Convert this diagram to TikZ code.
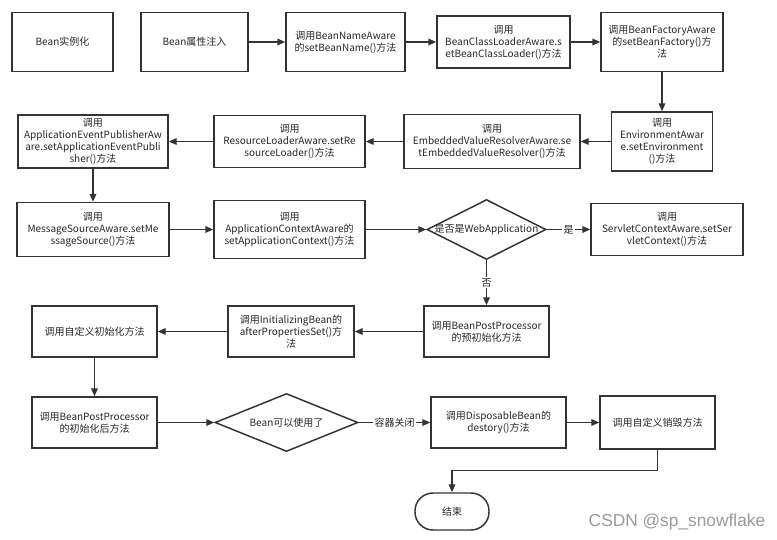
\documentclass[tikz,border=0pt]{standalone}
\usepackage{fontspec}
\setmainfont{Noto Sans CJK SC}
\newfontfamily\markfont{Liberation Sans}
\usetikzlibrary{arrows.meta,shapes.geometric}
\tikzset{every picture/.style={line width=0.75pt}}
\tikzset{
  flowbox/.style 2 args={draw=black!80, line width=1.1pt, align=center, inner sep=0pt,
    minimum width=#1*0.75pt, minimum height=#2*0.75pt,
    font=\fontsize{7.5}{9}\selectfont, text=black!85},
  decision/.style 2 args={draw=black!80, line width=1.1pt, diamond, inner sep=0pt,
    minimum width=#1*0.75pt, minimum height=#2*0.75pt},
  dtext/.style={font=\fontsize{7.5}{9}\selectfont, text=black!85},
  terminal/.style={draw=black!80, line width=1.1pt, rounded corners=13.5pt, inner sep=0pt,
    minimum width=74*0.75pt, minimum height=37*0.75pt,
    font=\fontsize{7.5}{9}\selectfont, text=black!85},
  flow/.style={draw=black!80, line width=1.1pt, -{Triangle[length=6pt,width=5pt]}},
  elabel/.style={fill=white, inner sep=1pt, font=\fontsize{7.5}{9}\selectfont, text=black!85}
}

\begin{document}
\begin{tikzpicture}[x=0.75pt,y=0.75pt,yscale=-1,xscale=1]
\useasboundingbox (0,0) rectangle (777,539);

%Shape: Rectangle
\node [flowbox={101}{59}] (inst) at (62.5,42) {Bean实例化};
%Shape: Rectangle
\node [flowbox={107}{59}] (inject) at (194.5,42) {Bean属性注入};
%Shape: Rectangle
\node [flowbox={119}{59}] (nameaw) at (345.5,42) {调用BeanNameAware\\的setBeanName()方法};
%Shape: Rectangle
\node [flowbox={133}{52}] (classld) at (503.5,42) {调用\\BeanClassLoaderAware.s\\etBeanClassLoader()方法};
%Shape: Rectangle
\node [flowbox={122}{59}] (factaw) at (662,42) {调用BeanFactoryAware\\的setBeanFactory()方\\法};
%Shape: Rectangle
\node [flowbox={101}{59}] (envaw) at (662,141.5) {调用\\EnvironmentAwar\\e.setEnvironment\\()方法};
%Shape: Rectangle
\node [flowbox={176}{54}] (embval) at (492,141.5) {调用\\EmbeddedValueResolverAware.se\\tEmbeddedValueResolver()方法};
%Shape: Rectangle
\node [flowbox={151}{52}] (resld) at (289.5,141.5) {调用\\ResourceLoaderAware.setRe\\sourceLoader()方法};
%Shape: Rectangle
\node [flowbox={150}{53}] (evpub) at (93,141.5) {调用\\ApplicationEventPublisherAw\\are.setApplicationEventPubli\\sher()方法};
%Shape: Rectangle
\node [flowbox={152}{54}] (msgsrc) at (93,229.5) {调用\\MessageSourceAware.setMe\\ssageSource()方法};
%Shape: Rectangle
\node [flowbox={151}{58}] (appctx) at (289.5,229.5) {调用\\ApplicationContextAware的\\setApplicationContext()方法};
%Shape: Diamond
\node [decision={119}{60}, label={[dtext]center:是否是WebApplication}] (isweb) at (486.5,229.5) {};
%Shape: Rectangle
\node [flowbox={152}{52}] (servlet) at (667,229.5) {调用\\ServletContextAware.setSer\\vletContext()方法};
%Shape: Rectangle
\node [flowbox={125}{51}] (prebpp) at (486.5,331.5) {调用BeanPostProcessor\\的预初始化方法};
%Shape: Rectangle
\node [flowbox={126}{51}] (initbean) at (291,331.5) {调用InitializingBean的\\afterPropertiesSet()方\\法};
%Shape: Rectangle
\node [flowbox={125}{51}] (initm) at (94.5,331.5) {调用自定义初始化方法};
%Shape: Rectangle
\node [flowbox={125}{51}] (postbpp) at (94.5,422.5) {调用BeanPostProcessor\\的初始化后方法};
%Shape: Diamond
\node [decision={143}{58}, label={[dtext]center:Bean可以使用了}] (ready) at (286.5,422.5) {};
%Shape: Rectangle
\node [flowbox={135}{51}] (dispbean) at (498.5,422.5) {调用DisposableBean的\\destory()方法};
%Shape: Rectangle
\node [flowbox={115}{53}] (destroym) at (657.5,422.5) {调用自定义销毁方法};
%Shape: Rounded Rect
\node [terminal] (finish) at (452,511.5) {结束};

%Straight Lines
\draw [flow] (inject) -- (nameaw);
\draw [flow] (nameaw) -- (classld);
\draw [flow] (classld) -- (factaw);
\draw [flow] (factaw) -- (envaw);
\draw [flow] (envaw) -- (embval);
\draw [flow] (embval) -- (resld);
\draw [flow] (resld) -- (evpub);
\draw [flow] (evpub) -- (msgsrc);
\draw [flow] (msgsrc) -- (appctx);
\draw [flow] (appctx) -- (isweb);
\draw [flow] (isweb) -- node [elabel] {是} (servlet);
\draw [flow] (isweb) -- node [elabel] {否} (prebpp);
\draw [flow] (prebpp) -- (initbean);
\draw [flow] (initbean) -- (initm);
\draw [flow] (initm) -- (postbpp);
\draw [flow] (postbpp) -- (ready);
\draw [flow] (ready) -- node [elabel] {容器关闭} (dispbean);
\draw [flow] (dispbean) -- (destroym);
%Elbow Lines
\draw [flow] (destroym.south) -- ++(0,21) -| (finish.north);

% Text Node
\node [font=\markfont\fontsize{13}{13}\selectfont, text=black!40] (mark) at (677,522) {CSDN @sp\_snowflake};

\end{tikzpicture}
\end{document}
